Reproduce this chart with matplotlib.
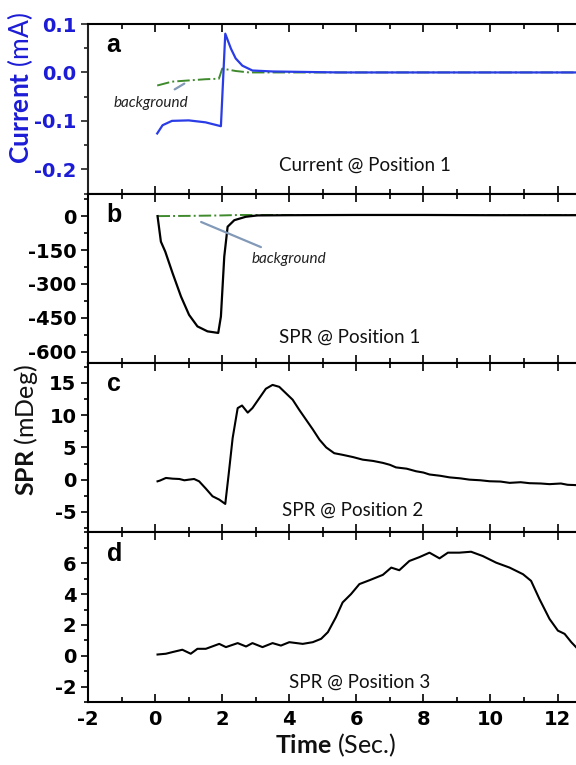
import numpy as np
import matplotlib
matplotlib.use("Agg")
import matplotlib.pyplot as plt
from matplotlib.ticker import MultipleLocator

# ---------------------------------------------------------------- data
# (a) current @ position 1
cur_t = [0.06, 0.22, 0.5, 1.0, 1.5, 1.96, 2.09, 2.26, 2.4, 2.6, 2.9, 3.5, 5.5, 12.55]
cur_v = [-0.126, -0.109, -0.100, -0.099, -0.103, -0.111, 0.080, 0.049, 0.029,
         0.014, 0.004, 0.002, 0.0, 0.0]
cur_bg_t = [0.06, 0.5, 1.5, 1.9, 2.0, 2.4, 2.8, 12.55]
cur_bg_v = [-0.027, -0.019, -0.014, -0.013, 0.008, 0.003, 0.0, 0.0]

# (b) SPR @ position 1
spr1_t = [0.07, 0.17, 0.3, 0.52, 0.77, 1.01, 1.26, 1.56, 1.88, 1.96, 2.06, 2.16,
          2.36, 2.7, 3.05, 4.0, 6.0, 8.0, 10.0, 12.55]
spr1_v = [0, -113, -157, -253, -356, -437, -488, -510, -517, -444, -179, -47,
          -18, -3, 3, 4, 5, 5, 4, 4]
spr1_bg_t = [0.07, 1.0, 2.0, 2.5, 3.0, 12.55]
spr1_bg_v = [0, 1, 3, 5, 5, 5]

# (c) SPR @ position 2
spr2_t = [0.07, 0.14, 0.32, 0.52, 0.72, 0.87, 1.01, 1.16, 1.31, 1.51, 1.71, 1.91,
          2.09, 2.19, 2.31, 2.46, 2.59, 2.76, 2.9, 3.1, 3.3, 3.5, 3.7, 3.9, 4.1,
          4.3, 4.5, 4.7, 4.9, 5.1, 5.34, 5.59, 5.9, 6.19, 6.5, 6.79, 7.0, 7.18,
          7.5, 7.78, 8.0, 8.18, 8.5, 8.78, 9.1, 9.37, 9.7, 9.97, 10.3, 10.57,
          10.9, 11.16, 11.5, 11.76, 12.1, 12.3, 12.55]
spr2_v = [-0.26, -0.15, 0.26, 0.15, 0.1, -0.1, 0.0, 0.1, -0.26, -1.39, -2.58,
          -3.1, -3.77, 0.77, 6.45, 11.1, 11.5, 10.4, 11.1, 12.6, 14.1, 14.7, 14.4,
          13.4, 12.4, 10.8, 9.3, 7.8, 6.2, 5.0, 4.1, 3.85, 3.5, 3.1, 2.9, 2.6,
          2.3, 1.9, 1.7, 1.3, 1.1, 0.8, 0.6, 0.35, 0.2, 0.0, -0.1, -0.25, -0.3,
          -0.5, -0.4, -0.55, -0.6, -0.7, -0.6, -0.8, -0.85]

# (d) SPR @ position 3
spr3_t = [0.07, 0.32, 0.52, 0.81, 1.06, 1.26, 1.51, 1.91, 2.11, 2.46, 2.71, 2.9,
          3.2, 3.5, 3.75, 4.0, 4.4, 4.7, 4.95, 5.15, 5.39, 5.59, 5.84, 6.09, 6.39,
          6.79, 7.04, 7.28, 7.58, 7.88, 8.18, 8.48, 8.73, 9.07, 9.42, 9.77, 10.17,
          10.57, 10.97, 11.21, 11.46, 11.76, 12.01, 12.21, 12.41, 12.55]
spr3_v = [0.08, 0.13, 0.24, 0.39, 0.13, 0.45, 0.45, 0.77, 0.56, 0.82, 0.6, 0.82,
          0.56, 0.82, 0.66, 0.88, 0.77, 0.88, 1.1, 1.53, 2.5, 3.46, 4.0, 4.65,
          4.9, 5.25, 5.72, 5.55, 6.15, 6.4, 6.69, 6.32, 6.69, 6.69, 6.75, 6.47,
          6.04, 5.72, 5.29, 4.86, 3.68, 2.39, 1.63, 1.42, 0.88, 0.56]

XTICKS = [-2, 0, 2, 4, 6, 8, 10, 12]
BLUE_TXT = "#1c1cd6"
BLUE_LINE = "#2a3ce6"
GREEN = "#3f8a2c"
NOTE = "#8299b8"

plt.rcParams["font.family"] = ["DejaVu Sans"]
plt.rcParams["axes.unicode_minus"] = False
plt.rcParams["mathtext.fontset"] = "custom"
plt.rcParams["mathtext.bf"] = "Lato:bold"
plt.rcParams["mathtext.rm"] = "Lato"

fig, axes = plt.subplots(4, 1, figsize=(5.76, 7.65), dpi=100, sharex=True)
fig.subplots_adjust(left=0.153, right=1.0, top=0.9686, bottom=0.0824, hspace=0)
ax_a, ax_b, ax_c, ax_d = axes

# a
ax_a.plot(cur_bg_t, cur_bg_v, color=GREEN, lw=1.4, ls="-.")
ax_a.plot(cur_t, cur_v, color=BLUE_LINE, lw=1.6)
ax_a.set_ylim(-0.25, 0.1)
ax_a.yaxis.set_minor_locator(MultipleLocator(0.05))
ax_a.set_yticks([0.1, 0.0, -0.1, -0.2])
ax_a.set_yticklabels(["0.1", "0.0", "-0.1", "-0.2"])
ax_a.annotate("background", xy=(0.87, -0.023), xytext=(-0.12, -0.064),
              ha="center", va="center", fontsize=11, style="italic",
              family="Lato", color="#222222",
              arrowprops=dict(arrowstyle="-", color=NOTE, lw=1.6,
                              shrinkA=6, shrinkB=0))
ax_a.text(6.27, -0.192, "Current @ Position 1", ha="center", va="center",
          fontsize=13.5, family="Lato", color="#111111")

# b
ax_b.plot(spr1_bg_t, spr1_bg_v, color=GREEN, lw=1.4, ls="-.")
ax_b.plot(spr1_t, spr1_v, color="black", lw=1.6)
ax_b.set_ylim(-650, 100)
ax_b.set_yticks([0, -150, -300, -450, -600])
ax_b.yaxis.set_minor_locator(MultipleLocator(75))
ax_b.annotate("background", xy=(1.37, -26), xytext=(4.0, -190),
              ha="center", va="center", fontsize=11, style="italic",
              family="Lato", color="#222222",
              arrowprops=dict(arrowstyle="-", color=NOTE, lw=1.6,
                              shrinkA=4, shrinkB=0))
ax_b.text(5.8, -535, "SPR @ Position 1", ha="center", va="center",
          fontsize=13.5, family="Lato", color="#111111")

# c
ax_c.plot(spr2_t, spr2_v, color="black", lw=1.5)
ax_c.set_ylim(-8.2, 18.1)
ax_c.set_yticks([15, 10, 5, 0, -5])
ax_c.yaxis.set_minor_locator(MultipleLocator(2.5))
ax_c.text(5.9, -4.7, "SPR @ Position 2", ha="center", va="center",
          fontsize=13.5, family="Lato", color="#111111")

# d
ax_d.plot(spr3_t, spr3_v, color="black", lw=1.5)
ax_d.set_ylim(-3, 8)
ax_d.set_yticks([6, 4, 2, 0, -2])
ax_d.yaxis.set_minor_locator(MultipleLocator(1))
ax_d.text(6.1, -1.7, "SPR @ Position 3", ha="center", va="center",
          fontsize=13.5, family="Lato", color="#111111")

for ax, lab in zip(axes, "abcd"):
    ax.set_xlim(-2, 12.55)
    ax.xaxis.set_major_locator(MultipleLocator(2))
    ax.xaxis.set_minor_locator(MultipleLocator(1))
    ax.tick_params(axis="x", which="both", direction="in", top=True, bottom=True,
                   width=1.2)
    ax.tick_params(axis="x", which="major", length=6)
    ax.tick_params(axis="x", which="minor", length=3.5)
    ax.tick_params(axis="y", which="both", direction="out", width=1.2,
                   labelsize=14)
    ax.tick_params(axis="y", which="major", length=5)
    ax.tick_params(axis="y", which="minor", length=3)
    for lbl in ax.get_yticklabels():
        lbl.set_fontweight("bold")
    for side in ("left", "top", "bottom"):
        ax.spines[side].set_linewidth(1.5)
    ax.spines["right"].set_visible(False)
    ax.text(0.038, 0.875, lab, transform=ax.transAxes, ha="left", va="center",
            fontsize=18, fontweight="bold", family="Liberation Sans")

ax_a.tick_params(axis="y", which="both", colors=BLUE_TXT)
ax_a.spines["left"].set_color("#222222")
ax_a.tick_params(axis="y", which="both", color="#222222")

ax_d.set_xticks(XTICKS)
ax_d.tick_params(axis="x", labelsize=14, pad=6)
for lbl in ax_d.get_xticklabels():
    lbl.set_fontweight("bold")

fig.text(0.035, 0.885, r"$\mathbf{Current}$ (mA)", rotation=90, ha="center",
         va="center", fontsize=19, color=BLUE_TXT, family="Lato")
fig.text(0.045, 0.438, r"$\mathbf{SPR}$ (mDeg)", rotation=90, ha="center",
         va="center", fontsize=18, color="#111111", family="Lato")
fig.text(0.582, 0.026, r"$\mathbf{Time}$ (Sec.)", ha="center", va="center",
         fontsize=18, color="#111111", family="Lato")

fig.savefig("out.png", dpi=100)
